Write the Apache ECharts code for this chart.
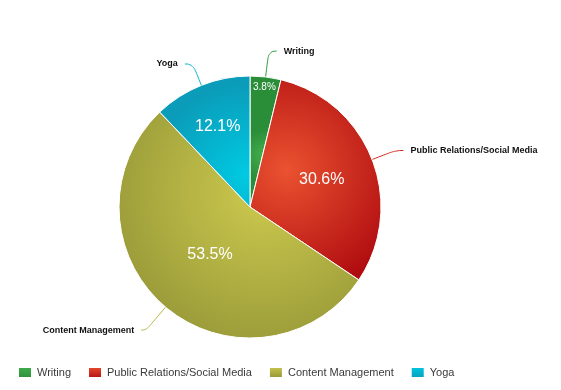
<!DOCTYPE html>
<html><head><meta charset="utf-8">
<script src="https://cdn.jsdelivr.net/npm/echarts@6/dist/echarts.min.js"></script>
<style>html,body{margin:0;padding:0;background:#fff}#c{width:561px;height:390px}</style>
</head><body><div id="c"></div>
<script>
const categories = ['Writing', 'Public Relations/Social Media', 'Content Management', 'Yoga'];
const values = [3.8, 30.6, 53.5, 12.1];
const pctLabels = ['3.8%', '30.6%', '53.5%', '12.1%'];

// style: per-slice radial gradients
const grads = [
  {x:0.5, y:0.6, r:0.8, c:['#44b04e', '#2a8d38']},
  {x:0.28, y:0.45, r:0.95, c:['#ea5230', '#b00c10']},
  {x:0.6, y:0.35, r:0.85, c:['#cdca4e', '#8f9135']},
  {x:0.95, y:0.75, r:1.0, c:['#00cae2', '#0a9cb9']}
];
function grad(g){
  return {type:'radial', x:g.x, y:g.y, r:g.r, colorStops:[{offset:0,color:g.c[0]},{offset:1,color:g.c[1]}]};
}
const lineColors = ['#2f9a3e', '#d02a1c', '#b5b440', '#0ab3cc'];
const lineLengths = [26, 25, 30, 23];
const lineLengths2 = [8, 8, 5, 8];
const innerRadii = [[105,131],[17,131],[0,118],[37,131]];
const innerFont = [10, 16, 16, 16];

const center = [250, 207];
const series = [{
  type:'pie', center:center, radius:131, startAngle:90, clockwise:true,
  animation:false,
  itemStyle:{borderColor:'#fff', borderWidth:1},
  label:{show:true, position:'outside', color:'#111', fontSize:9, fontWeight:'bold',
         fontFamily:'Liberation Sans, Arial, sans-serif', distanceToLabelLine:7},
  labelLine:{show:true, length:25, length2:8, smooth:0.5, lineStyle:{width:1}},
  emphasis:{disabled:true},
  data: categories.map((n,i)=>({name:n, value:values[i], itemStyle:{color:grad(grads[i])},
        labelLine:{length:lineLengths[i], length2:lineLengths2[i], lineStyle:{color:lineColors[i]}}}))
}];
categories.forEach((n,k)=>{
  series.push({
    type:'pie', center:center, radius:innerRadii[k], startAngle:90, clockwise:true,
    animation:false, silent:true, emphasis:{disabled:true},
    itemStyle:{color:'rgba(0,0,0,0)', borderWidth:0},
    labelLine:{show:false},
    data: categories.map((m,i)=>({name:m, value:values[i],
      label:{show:i===k, position:'inside', formatter:pctLabels[i], color:'#fff',
             fontSize:innerFont[i], fontFamily:'Liberation Sans, Arial, sans-serif'}}))
  });
});

const chart = echarts.init(document.getElementById('c'), null, {renderer:'canvas'});
chart.setOption({
  animation:false,
  legend:{
    data: categories.map((n,i)=>({name:n, itemStyle:{color:{type:'linear',x:0,y:0,x2:0,y2:1,
      colorStops:[{offset:0,color:grads[i].c[0]},{offset:1,color:grads[i].c[1]}]}}})),
    left:12, top:361, icon:'rect', itemWidth:14, itemHeight:11, itemGap:16,
    textStyle:{color:'#3a3a3a', fontSize:11, fontFamily:'Liberation Sans, Arial, sans-serif'}
  },
  series: series
});
</script></body></html>
